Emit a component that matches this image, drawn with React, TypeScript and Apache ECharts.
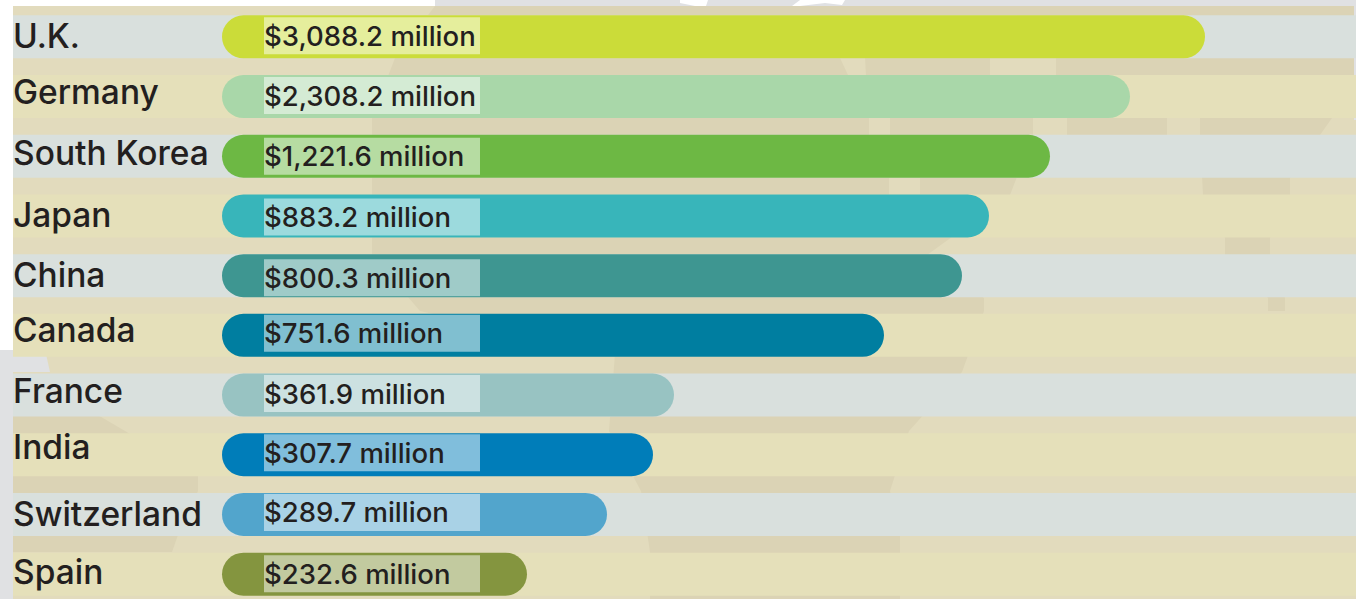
import React, { useEffect, useRef } from "react";
import * as echarts from "echarts";

// ---- chart data ----
const countries = ["U.K.", "Germany", "South Korea", "Japan", "China", "Canada", "France", "India", "Switzerland", "Spain"];
const amountsMillion = [3088.2, 2308.2, 1221.6, 883.2, 800.3, 751.6, 361.9, 307.7, 289.7, 232.6];
// The reference does not draw its bars in proportion to the amounts: these are the drawn lengths.
const drawnLengths = [983, 908, 828, 767, 740, 662, 452, 431, 385, 305];

// ---- styles and layout ----
const barColors = ["#CBDC39", "#A9D7A9", "#6DB844", "#38B5BA", "#3E9691", "#007EA0", "#98C3C2", "#007DB9", "#52A5CC", "#84953F"];
const bandColors = ["#D9E0DD", "#E5E0BA"];
const labelLift = [1, 4.5, 3.5, 1, 1, 5.5, 4, 7.5, 0.5, 2];
const valueLift = [1, 1, 0, -1, -2, 2, 1.5, 2, 2, 0.5];
const FONT = "Inter";
const INK = "#231F20";
const PAPER = "#E2DBBD";
const SHADE = "#DBD3B5";
const HAZE = "#E0E1E3";

const shade = (points: number[][], fill: string) => ({
  type: "polygon",
  z: -10,
  silent: true,
  shape: { points },
  style: { fill },
});

const backdrop = [
  shade([[435, 0], [1356, 0], [1356, 120], [1354, 120], [1354, 6], [435, 6]], HAZE),
  shade([[0, 350], [13, 350], [13, 599], [0, 599]], HAZE),
  shade([[680, 0], [708, 0], [705, 9], [695, 6], [680, 3]], "#FFFFFF"),
  shade([[792, 6], [800, 0], [845, 0], [842, 5], [825, 3], [800, 6]], "#FFFFFF"),
  { type: "rect", z: -11, silent: true, shape: { x: 13, y: 6, width: 1343, height: 593 }, style: { fill: PAPER } },
  shade([[13, 354], [46, 354], [50, 372], [13, 372]], HAZE),
  shade([[435, 6], [1354, 6], [1354, 75], [1056, 75], [1056, 58], [990, 58], [990, 75], [1000, 118], [1033, 118], [1033, 135], [1010, 195], [927, 255], [984, 298], [984, 311], [962, 372], [909, 431], [890, 491], [900, 535], [900, 599], [650, 599], [650, 552], [641, 491], [609, 431], [615, 354], [420, 311], [372, 255], [372, 118], [395, 58]], SHADE),
  shade([[1067, 118], [1167, 118], [1167, 135], [1067, 135]], SHADE),
  shade([[1200, 118], [1332, 118], [1320, 135], [1290, 178], [1290, 195], [1270, 238], [1270, 255], [1285, 298], [1285, 311], [1268, 311], [1268, 298], [1225, 255], [1225, 238], [1203, 195], [1200, 135]], SHADE),
  shade([[840, 58], [865, 58], [866, 75], [848, 75]], PAPER),
  shade([[869, 118], [890, 118], [890, 135], [869, 135]], PAPER),
  shade([[889, 178], [920, 178], [920, 195], [889, 195]], PAPER),
  shade([[13, 414], [96, 414], [125, 431], [198, 474], [198, 491], [178, 535], [172, 552], [13, 552]], SHADE),
];

const formatAmount = (v: number) =>
  "$" + v.toLocaleString("en-US", { minimumFractionDigits: 1, maximumFractionDigits: 1 }) + " million";

const labelRich: Record<string, object> = {};
labelLift.forEach((lift, i) => {
  labelRich["r" + i] = {
    fontFamily: FONT,
    fontSize: 33.5,
    fontWeight: 500,
    color: INK,
    padding: [0, 0, lift * 2, 0],
  };
});

export default function App() {
  const ref = useRef<HTMLDivElement>(null);

  useEffect(() => {
    document.body.style.margin = "0";
    document.body.style.background = "#FFFFFF";
    const chart = echarts.init(ref.current!, undefined, { renderer: "svg" });
    chart.setOption({
      animation: false,
      backgroundColor: "transparent",
      graphic: { elements: backdrop },
      grid: { left: 13, right: 0, top: 7, height: 597, outerBoundsMode: "none" },
      xAxis: [
        // drawn-length scale whose zero is where the bars start
        { type: "value", min: -209, max: 1134, show: false },
        // whole-row scale for the alternating bands
        { type: "value", min: 0, max: 1, show: false },
      ],
      yAxis: {
        type: "category",
        inverse: true,
        z: 10,
        data: countries,
        axisLine: { show: false },
        axisTick: { show: false },
        splitLine: { show: false },
        axisLabel: {
          inside: true,
          margin: 0,
          align: "left",
          interval: 0,
          fontFamily: FONT,
          fontSize: 33.5,
          fontWeight: 500,
          color: INK,
          formatter: (value: string, index: number) => `{r${index}|${value}}`,
          rich: labelRich,
        },
      },
      series: [
        {
          type: "bar",
          name: "band",
          xAxisIndex: 1,
          barWidth: 43,
          barGap: "-100%",
          silent: true,
          z: 1,
          data: countries.map((_, i) => ({
            value: 1,
            itemStyle: { color: bandColors[i % 2] },
          })),
        },
        {
          type: "bar",
          name: "Amount",
          xAxisIndex: 0,
          barWidth: 43,
          barGap: "-100%",
          z: 3,
          data: drawnLengths.map((value, i) => ({
            value,
            itemStyle: { color: barColors[i], borderRadius: 21.5 },
            label: {
              show: true,
              position: "insideLeft",
              distance: 0,
              offset: [42, -valueLift[i]],
              width: 216,
              height: 37,
              lineHeight: 37,
              align: "left",
              fontFamily: FONT,
              fontSize: 27.5,
              fontWeight: 500,
              color: INK,
              backgroundColor: "rgba(255,255,255,0.5)",
              formatter: formatAmount(amountsMillion[i]),
            },
          })),
        },
      ],
    });
    return () => chart.dispose();
  }, []);

  return <div ref={ref} style={{ position: "absolute", left: 0, top: 0, width: 1356, height: 599 }} />;
}
